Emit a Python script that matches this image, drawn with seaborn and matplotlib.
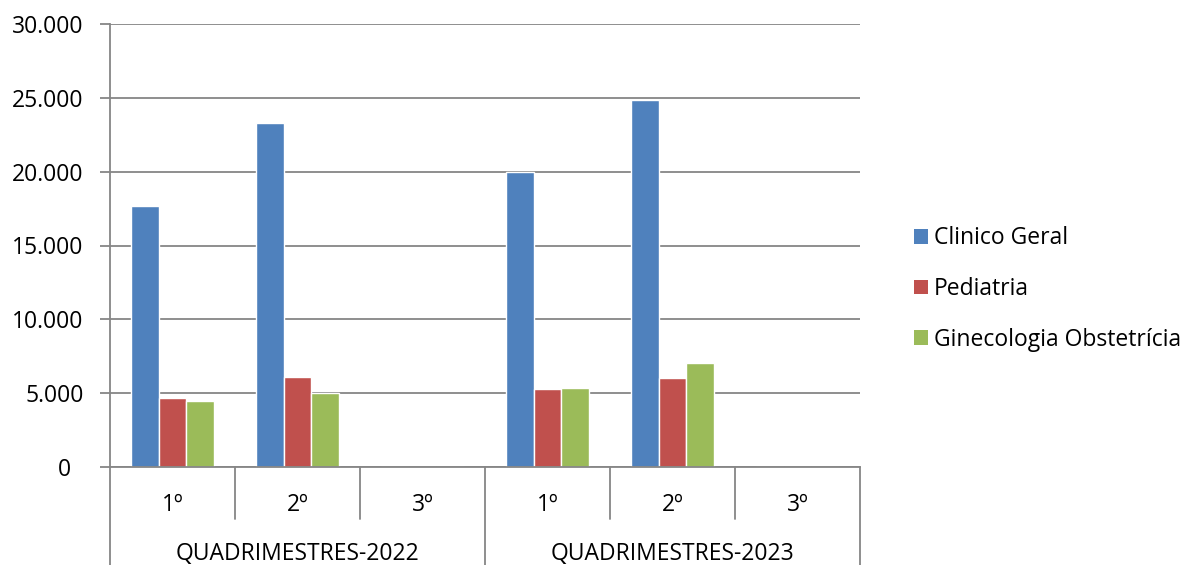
import pandas as pd
import matplotlib
matplotlib.use("Agg")
import matplotlib.pyplot as plt
import matplotlib.transforms as mtransforms
from matplotlib.ticker import FuncFormatter, MultipleLocator
from matplotlib.patches import Patch
import seaborn as sns

# data
years = ["QUADRIMESTRES-2022", "QUADRIMESTRES-2023"]
quads = ["1º", "2º", "3º"]
series = ["Clinico Geral", "Pediatria", "Ginecologia Obstetrícia"]
clinico = [17650, 23300, 0, 19990, 24880, 0]
pediatria = [4650, 6070, 0, 5260, 6050, 0]
gineco = [4490, 5000, 0, 5370, 7060, 0]
colors = ["#4F81BD", "#C0504D", "#9BBB59"]

keys = [f"{y}|{q}" for y in years for q in quads]
rows = []
for name, vals in zip(series, [clinico, pediatria, gineco]):
    for k, v in zip(keys, vals):
        rows.append({"cat": k, "serie": name, "valor": v})
df = pd.DataFrame(rows)

sns.set_style("white")
plt.rcParams["font.family"] = ["Open Sans", "DejaVu Sans"]
plt.rcParams["font.size"] = 16.5
plt.rcParams["text.color"] = "black"

grid_col = "#868686"
fs = 16.5

fig = plt.figure(figsize=(11.85, 5.65), dpi=100)
ax = fig.add_axes([110 / 1185, 1 - 467 / 565, 750 / 1185, 443 / 565])

sns.barplot(data=df, x="cat", y="valor", hue="serie", order=keys,
            hue_order=series, palette=colors, width=0.664, saturation=1,
            legend=False, ax=ax)

ax.set_xlim(-0.5, len(keys) - 0.5)
ax.set_ylim(0, 30000)
ax.yaxis.set_major_locator(MultipleLocator(5000))
ax.yaxis.set_major_formatter(FuncFormatter(
    lambda v, p: f"{int(v):,}".replace(",", ".") if v else "0  "))
ax.set_xlabel("")
ax.set_ylabel("")

ax.grid(axis="y", color=grid_col, linewidth=1.3)
ax.set_axisbelow(True)
for s in ["top", "right"]:
    ax.spines[s].set_visible(False)
for s in ["left", "bottom"]:
    ax.spines[s].set_color(grid_col)
    ax.spines[s].set_linewidth(1.3)

ax.tick_params(axis="y", length=7, width=1.3, color=grid_col, pad=12,
               labelsize=fs, labelcolor="black", left=True)
ax.set_xticks(range(len(keys)))
ax.set_xticklabels(quads * len(years), fontsize=fs)
ax.tick_params(axis="x", length=0, pad=19, labelcolor="black")

# two-level category axis separators
trans = mtransforms.blended_transform_factory(ax.transData, ax.transAxes)
for i in range(len(keys) + 1):
    xb = i - 0.5
    y_end = -0.222 if i % len(quads) == 0 else -0.117
    ax.plot([xb, xb], [0, y_end], color=grid_col, linewidth=1.3,
            transform=trans, clip_on=False)
for j, y in enumerate(years):
    ax.text(j * len(quads) + 1, -0.197, y, transform=trans,
            ha="center", va="center", fontsize=fs, color="black")

handles = [Patch(facecolor=c, edgecolor="none") for c in colors]
fig.legend(handles, series, loc="center left",
           bbox_to_anchor=(893 / 1185, 1 - 289 / 565), frameon=False,
           fontsize=fs, handlelength=0.62, handleheight=0.62,
           handletextpad=0.25, labelspacing=1.17)

fig.savefig("out.png", dpi=100)
